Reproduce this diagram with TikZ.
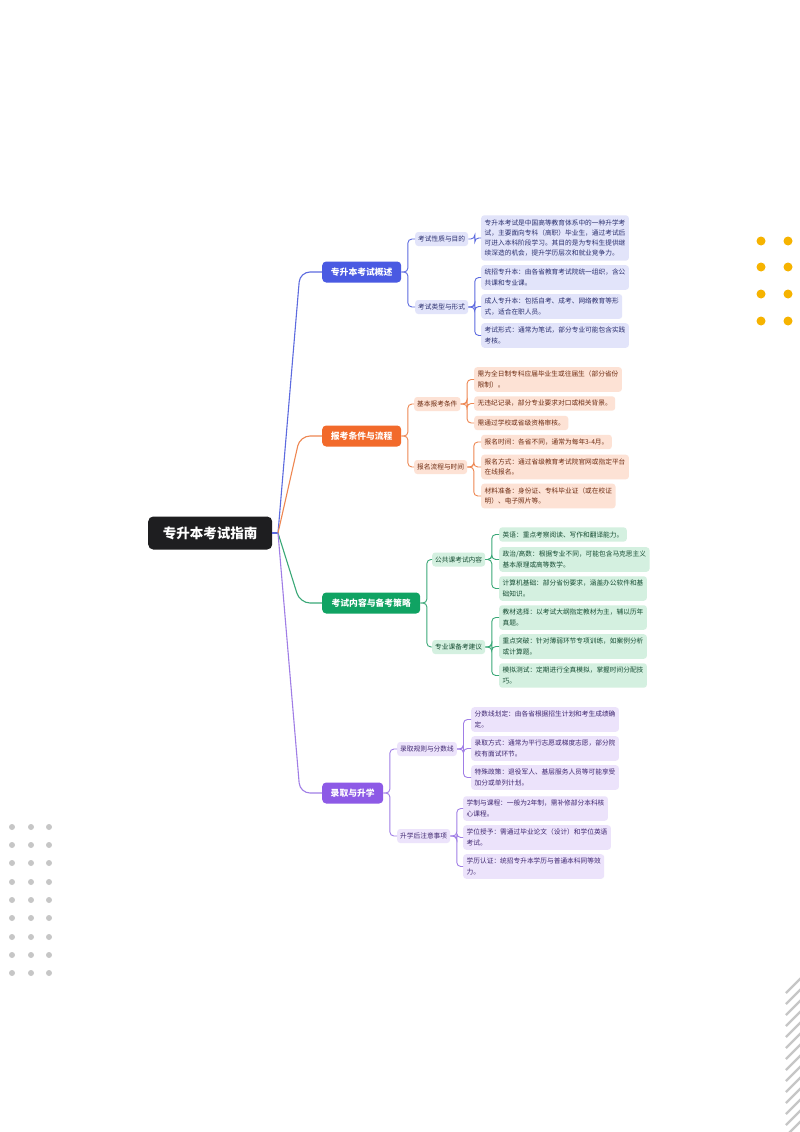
\documentclass[tikz,border=0pt]{standalone}
\usepackage{fontspec}
\setmainfont{Noto Sans CJK SC}
\usetikzlibrary{calc}
\definecolor{rootc}{HTML}{1E1E20}
\definecolor{blueM}{HTML}{4A5AE2}
\definecolor{blueL}{HTML}{E2E4FA}
\definecolor{blueT}{HTML}{2B2F6E}
\definecolor{blueLn}{HTML}{5D6BDF}
\definecolor{orM}{HTML}{F26A2B}
\definecolor{orL}{HTML}{FDE2D5}
\definecolor{orT}{HTML}{6E2C12}
\definecolor{orLn}{HTML}{EE8752}
\definecolor{grM}{HTML}{10A363}
\definecolor{grL}{HTML}{D4F0E0}
\definecolor{grT}{HTML}{164D33}
\definecolor{grLn}{HTML}{3AA877}
\definecolor{puM}{HTML}{8D5AE6}
\definecolor{puL}{HTML}{ECE3FB}
\definecolor{puT}{HTML}{3F2770}
\definecolor{puLn}{HTML}{A07EE6}
\definecolor{dotY}{HTML}{F6B300}
\definecolor{dotG}{HTML}{C6C6C6}
\tikzset{
  rootbox/.style={fill=rootc, text=white, font=\fontsize{13.5}{16}\selectfont\bfseries, rounded corners=5pt, minimum width=124pt, minimum height=33pt, anchor=west, inner sep=0pt},
  brbox/.style={rounded corners=4pt, text=white, font=\fontsize{8.8}{10}\selectfont\bfseries, minimum height=21pt, inner xsep=8.5pt, inner ysep=0pt, anchor=west},
  subbox/.style={rounded corners=3pt, font=\fontsize{6.7}{8}\selectfont, minimum height=14pt, inner xsep=3pt, inner ysep=0pt, anchor=west},
  leafbox/.style={rounded corners=3pt, font=\fontsize{6.7}{10.3}\selectfont, align=left, inner xsep=3.5pt, inner ysep=4pt, anchor=west},
  bS/.style={fill=blueL, text=blueT}, oS/.style={fill=orL, text=orT},
  gS/.style={fill=grL, text=grT}, pS/.style={fill=puL, text=puT},
  mainln/.style={line width=1.1pt, rounded corners=10pt},
  subln/.style={line width=0.9pt, rounded corners=4pt},
}
\begin{document}
\begin{tikzpicture}[x=1pt,y=-1pt]
\useasboundingbox (0,0) rectangle (800,1132);
\fill[white] (0,0) rectangle (800,1132);
% decorations
\foreach \yy in {241,267,294,321}{\foreach \xx in {761,788}{\fill[dotY] (\xx,\yy) circle (4.5pt);}}
\foreach \yy in {827,845,863,882,900,918,937,955,973}{\foreach \xx in {12,31,49}{\fill[dotG] (\xx,\yy) circle (3pt);}}
\begin{scope}
\clip (0,0) rectangle (800,1132);
\foreach \k in {0,...,13}{\draw[dotG, line width=2.4pt] (786,{993+11*\k}) -- (801,{978+11*\k});}
\end{scope}
% root
\node[rootbox] (root) at (148,533) {专升本考试指南};
\coordinate (rj) at (278,533);
% branch 1
\node[brbox, fill=blueM, minimum width=79pt] (b1) at (322,272) {专升本考试概述};
\node[subbox,bS] (s11) at (415,239) {考试性质与目的};
\node[subbox,bS] (s12) at (415,307) {考试类型与形式};
\node[leafbox,bS] (l111) at (481,238) {专升本考试是中国高等教育体系中的一种升学考\\试，主要面向专科（高职）毕业生，通过考试后\\可进入本科阶段学习。其目的是为专科生提供继\\续深造的机会，提升学历层次和就业竞争力。};
\node[leafbox,bS] (l121) at (481,277.5) {统招专升本：由各省教育考试院统一组织，含公\\共课和专业课。};
\node[leafbox,bS] (l122) at (481,306.5) {成人专升本：包括自考、成考、网络教育等形\\式，适合在职人员。};
\node[leafbox,bS] (l123) at (481,335.5) {考试形式：通常为笔试，部分专业可能包含实践\\考核。};
% branch 2
\node[brbox, fill=orM, minimum width=79pt] (b2) at (322,436) {报考条件与流程};
\node[subbox,oS] (s21) at (414,404) {基本报考条件};
\node[subbox,oS] (s22) at (414,467) {报名流程与时间};
\node[leafbox,oS] (l211) at (474,379.5) {需为全日制专科应届毕业生或往届生（部分省份\\限制）。};
\node[leafbox,oS] (l212) at (474,403.5) {无违纪记录，部分专业要求对口或相关背景。};
\node[leafbox,oS] (l213) at (474,423) {需通过学校或省级资格审核。};
\node[leafbox,oS] (l221) at (481,442) {报名时间：各省不同，通常为每年3-4月。};
\node[leafbox,oS] (l222) at (481,467) {报名方式：通过省级教育考试院官网或指定平台\\在线报名。};
\node[leafbox,oS] (l223) at (481,496) {材料准备：身份证、专科毕业证（或在校证\\明）、电子照片等。};
% branch 3
\node[brbox, fill=grM, minimum width=98pt] (b3) at (322,603) {考试内容与备考策略};
\node[subbox,gS] (s31) at (432,559.5) {公共课考试内容};
\node[subbox,gS] (s32) at (432,647) {专业课备考建议};
\node[leafbox,gS] (l311) at (499,534.5) {英语：重点考察阅读、写作和翻译能力。};
\node[leafbox,gS] (l312) at (499,559.5) {政治/高数：根据专业不同，可能包含马克思主义\\基本原理或高等数学。};
\node[leafbox,gS] (l313) at (499,588.5) {计算机基础：部分省份要求，涵盖办公软件和基\\础知识。};
\node[leafbox,gS] (l321) at (499,617.5) {教材选择：以考试大纲指定教材为主，辅以历年\\真题。};
\node[leafbox,gS] (l322) at (499,646.5) {重点突破：针对薄弱环节专项训练，如案例分析\\或计算题。};
\node[leafbox,gS] (l323) at (499,675.5) {模拟测试：定期进行全真模拟，掌握时间分配技\\巧。};
% branch 4
\node[brbox, fill=puM, minimum width=61pt] (b4) at (322,793) {录取与升学};
\node[subbox,pS] (s41) at (397,749) {录取规则与分数线};
\node[subbox,pS] (s42) at (397,836) {升学后注意事项};
\node[leafbox,pS] (l411) at (471,719.5) {分数线划定：由各省根据招生计划和考生成绩确\\定。};
\node[leafbox,pS] (l412) at (471,748.5) {录取方式：通常为平行志愿或梯度志愿，部分院\\校有面试环节。};
\node[leafbox,pS] (l413) at (471,777.5) {特殊政策：退役军人、基层服务人员等可能享受\\加分或单列计划。};
\node[leafbox,pS] (l421) at (463,808.5) {学制与课程：一般为2年制，需补修部分本科核\\心课程。};
\node[leafbox,pS] (l422) at (463,837.5) {学位授予：需通过毕业论文（设计）和学位英语\\考试。};
\node[leafbox,pS] (l423) at (463,866.5) {学历认证：统招专升本学历与普通本科同等效\\力。};
% main connectors
\draw[blueLn, line width=1.1pt] (root.east) -- (rj);
\draw[mainln, blueLn] (rj) -- ($(b1.west)+(-22,0)$) -- (b1.west);
\draw[mainln, orLn] (rj) -- ($(b2.west)+(-22,0)$) -- (b2.west);
\draw[mainln, grLn] (rj) -- ($(b3.west)+(-22,0)$) -- (b3.west);
\draw[mainln, puLn] (rj) -- ($(b4.west)+(-22,0)$) -- (b4.west);
% sub connectors
\foreach \b/\s/\c in {b1/s11/blueLn,b1/s12/blueLn,b2/s21/orLn,b2/s22/orLn,b3/s31/grLn,b3/s32/grLn,b4/s41/puLn,b4/s42/puLn}
  {\draw[subln, \c] (\b.east) -- ++(6.5,0) |- (\s.west);}
\foreach \s/\l/\c in {s11/l111/blueLn,s12/l121/blueLn,s12/l122/blueLn,s12/l123/blueLn,
  s21/l211/orLn,s21/l212/orLn,s21/l213/orLn,s22/l221/orLn,s22/l222/orLn,s22/l223/orLn,
  s31/l311/grLn,s31/l312/grLn,s31/l313/grLn,s32/l321/grLn,s32/l322/grLn,s32/l323/grLn,
  s41/l411/puLn,s41/l412/puLn,s41/l413/puLn,s42/l421/puLn,s42/l422/puLn,s42/l423/puLn}
  {\draw[subln, \c] (\s.east) -- ++(6.5,0) |- (\l.west);}
\end{tikzpicture}
\end{document}
